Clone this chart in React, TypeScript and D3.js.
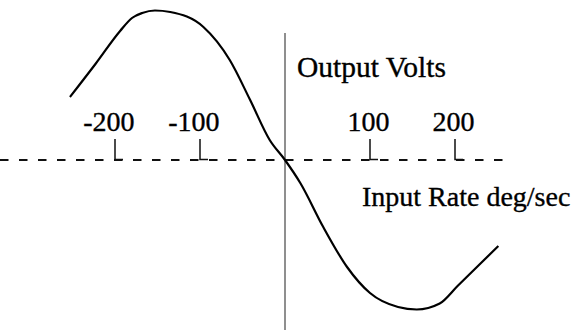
import React from "react";
import * as d3 from "d3";

// Input rate (deg/sec) samples of the response curve
const rateValues = [-253, -223, -194, -180, -168, -153, -135, -96, -65, -41, -18, 0, 18, 45, 73, 100, 133, 155, 182, 203, 251];
// Output volts (arbitrary units) at those rates
const voltValues = [0.63, 0.96, 1.29, 1.42, 1.47, 1.495, 1.48, 1.33, 1.0, 0.6, 0.2, 0, -0.23, -0.67, -1.07, -1.33, -1.47, -1.495, -1.435, -1.26, -0.86];
const tickValues = [-200, -100, 100, 200];
const tickLabels = ["-200", "-100", "100", "200"];
const yAxisLabel = "Output Volts";
const xAxisLabel = "Input Rate deg/sec";

const W = 571;
const H = 330;

export default function App() {
  const x = d3.scaleLinear().domain([-200, 200]).range([115, 455]);
  const y = d3.scaleLinear().domain([-1, 1]).range([260, 60]);
  const pts: [number, number][] = rateValues.map((r, i) => [r, voltValues[i]]);
  const line = d3
    .line<[number, number]>()
    .x((d) => x(d[0]))
    .y((d) => y(d[1]))
    .curve(d3.curveMonotoneX);
  const x0 = x(0);
  const y0 = y(0);
  const font = "'Liberation Serif', 'Times New Roman', serif";
  const textStyle = { stroke: "#000", strokeWidth: 0.35 };
  return (
    <svg
      width={W}
      height={H}
      style={{ position: "absolute", left: 0, top: 0, background: "#fff" }}
      xmlns="http://www.w3.org/2000/svg"
    >
      <rect x={0} y={0} width={W} height={H} fill="#fff" />
      {/* horizontal dashed axis */}
      <line x1={0} x2={504} y1={y0} y2={y0} stroke="#111" strokeWidth={2} strokeDasharray="8.5 10.5" />
      {/* vertical axis */}
      <line x1={x0} x2={x0} y1={33} y2={H} stroke="#333" strokeWidth={1.1} />
      {/* ticks */}
      {tickValues.map((t, i) => (
        <g key={t}>
          <path
            d={`M${x(t)},${y0 - 21} V${y0 - 0.5} H${x(t) + 8}`}
            fill="none"
            stroke="#111"
            strokeWidth={1.5}
          />
          <text
            x={x(t) + 19.5}
            y={131}
            textAnchor="end"
            fontFamily={font}
            fontSize={28}
            fill="#000"
            style={textStyle}
          >
            {tickLabels[i]}
          </text>
        </g>
      ))}
      {/* curve */}
      <path d={line(pts) || ""} fill="none" stroke="#000" strokeWidth={2.2} strokeLinejoin="round" />
      <text x={297} y={77} fontFamily={font} fontSize={29.5} fill="#000" style={textStyle}>
        {yAxisLabel}
      </text>
      <text x={362} y={206} fontFamily={font} fontSize={28} fill="#000" style={textStyle}>
        {xAxisLabel}
      </text>
    </svg>
  );
}
